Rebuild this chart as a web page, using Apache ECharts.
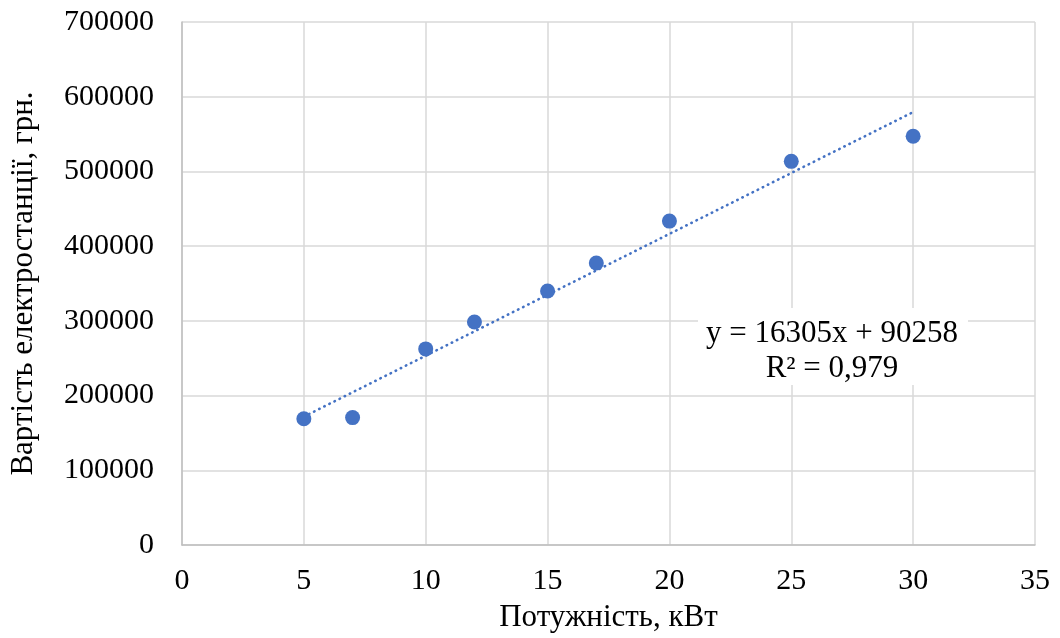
<!DOCTYPE html>
<html>
<head>
<meta charset="utf-8">
<script src="https://cdn.jsdelivr.net/npm/echarts@6/dist/echarts.min.js"></script>
<style>
  html, body { margin: 0; padding: 0; background: #fff; }
  #chart { width: 1060px; height: 638px; }
</style>
</head>
<body>
<div id="chart"></div>
<script>
// power, kW and station cost, UAH
const power = [5, 7, 10, 12, 15, 17, 20, 25, 30];
const cost = [169000, 170500, 262500, 298500, 340000, 377500, 433500, 513500, 547000];
// linear trend endpoints
const trendPoints = [[5, 171800], [30, 579400]];
const equationText = "y = 16305x + 90258\nR² = 0,979";

const font = "'Liberation Serif', 'Times New Roman', serif";
const blue = "#4472c4";

const chart = echarts.init(document.getElementById("chart"));

chart.setOption({
  animation: false,
  grid: { left: 182, right: 25, top: 22, bottom: 91 },
  xAxis: {
    type: "value",
    min: 0,
    max: 35,
    interval: 5,
    name: "Потужність, кВт",
    nameLocation: "middle",
    nameGap: 57,
    nameTextStyle: { fontFamily: font, fontSize: 31, color: "#000" },
    axisLine: { show: true, lineStyle: { color: "#bfbfbf", width: 1.5 } },
    axisTick: { show: false },
    axisLabel: { fontFamily: font, fontSize: 30, color: "#000", margin: 21 },
    splitLine: { show: true, lineStyle: { color: "#d9d9d9", width: 1.5 } }
  },
  yAxis: {
    type: "value",
    min: 0,
    max: 700000,
    interval: 100000,
    name: "Вартість електростанції, грн.",
    nameLocation: "middle",
    nameGap: 143,
    nameTextStyle: { fontFamily: font, fontSize: 31, color: "#000" },
    axisLine: { show: true, lineStyle: { color: "#bfbfbf", width: 1.5 } },
    axisTick: { show: false },
    axisLabel: {
      fontFamily: font, fontSize: 30, color: "#000", margin: 28,
      formatter: (v) => String(v)
    },
    splitLine: { show: true, lineStyle: { color: "#d9d9d9", width: 1.5 } }
  },
  series: [
    {
      type: "line",
      data: trendPoints,
      symbol: "none",
      lineStyle: { color: blue, width: 2.6, type: [0.5, 5.2], cap: "round" },
      z: 2
    },
    {
      type: "scatter",
      data: power.map((p, i) => [p, cost[i]]),
      symbolSize: 15,
      itemStyle: { color: blue, opacity: 1 },
      z: 3
    }
  ],
  graphic: [
    {
      type: "rect",
      shape: { x: 698, y: 308, width: 270, height: 77 },
      style: { fill: "#fff" },
      z: 9
    },
    {
      type: "text",
      x: 832,
      y: 316,
      z: 10,
      style: {
        text: equationText,
        fontFamily: font,
        fontSize: 31,
        lineHeight: 35,
        fill: "#000",
        align: "center",
        verticalAlign: "top"
      }
    }
  ]
});
</script>
</body>
</html>
